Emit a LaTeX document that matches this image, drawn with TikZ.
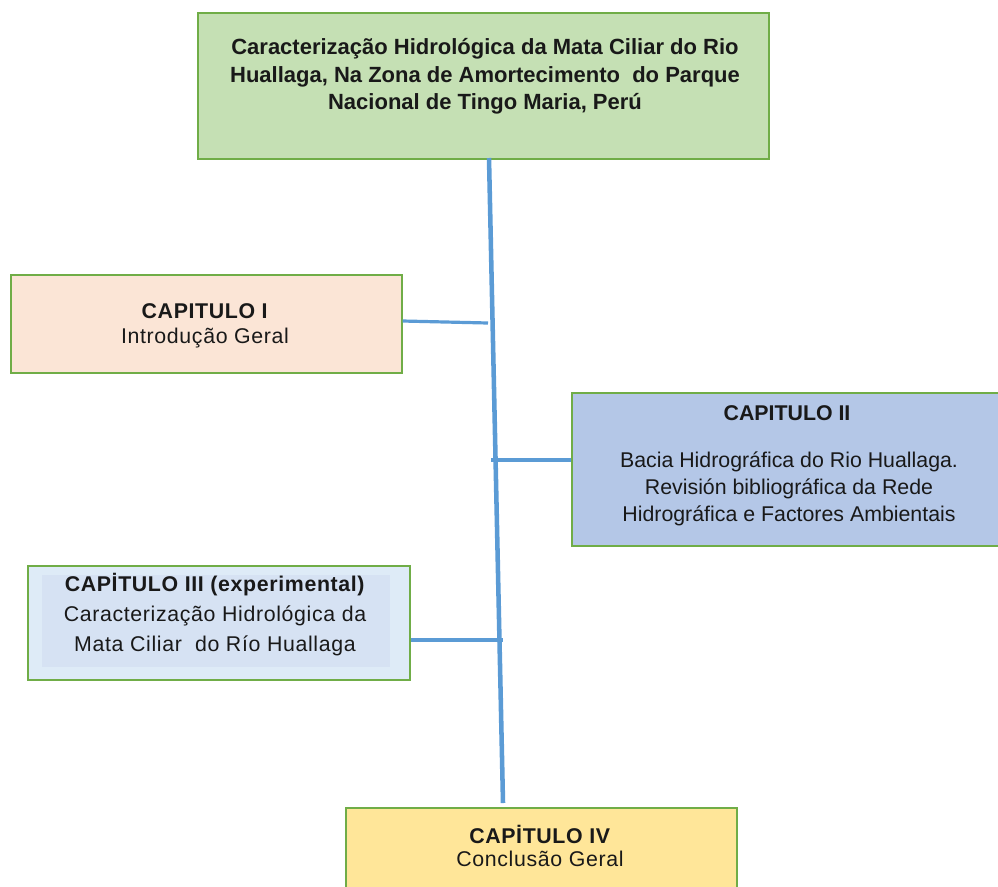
\documentclass[tikz,border=0pt]{standalone}
\usepackage{fontspec}
\setmainfont{Liberation Sans}
\definecolor{bordergreen}{HTML}{70AD47}
\definecolor{titlefill}{HTML}{C5E0B4}
\definecolor{onefill}{HTML}{FBE5D6}
\definecolor{twofill}{HTML}{B4C7E7}
\definecolor{threefill}{HTML}{DEEBF7}
\definecolor{threeinner}{HTML}{D6E2F3}
\definecolor{fourfill}{HTML}{FFE699}
\definecolor{linkblue}{HTML}{5B9BD5}
\tikzset{
  box/.style={draw=bordergreen, line width=1.2pt, inner sep=0pt, anchor=north west},
  txt/.style={align=center, inner sep=0pt, text=black!90},
  link/.style={draw=linkblue, line width=2.4pt},
  spine/.style={draw=linkblue, line width=3.4pt}
}
\newcommand{\spaced}{\addfontfeature{LetterSpace=3}}
\begin{document}
\begin{tikzpicture}[x=0.75pt, y=-0.75pt]
\useasboundingbox (0,0) rectangle (998,886);
% boxes
\node[box, fill=titlefill, minimum width=571*0.75pt, minimum height=146*0.75pt] (title) at (197,12) {};
\node[box, fill=onefill, minimum width=391*0.75pt, minimum height=98*0.75pt] (c1) at (10,274) {};
\node[box, fill=twofill, minimum width=430*0.75pt, minimum height=153*0.75pt] (c2) at (571,392) {};
\node[box, fill=threefill, minimum width=382*0.75pt, minimum height=114*0.75pt] (c3) at (27,565) {};
\fill[threeinner] (42,575) rectangle (390,667);
\node[box, fill=fourfill, minimum width=391*0.75pt, minimum height=85*0.75pt] (c4) at (345,807) {};
% texts
\node[txt, font=\fontsize{16.5}{20.6}\selectfont\bfseries] (ttitle) at (485,76.5) {Caracterização Hidrológica da Mata Ciliar do Rio\\Huallaga, Na Zona de Amortecimento\ \ do Parque\\Nacional de Tingo Maria, Perú};
\node[txt, font=\fontsize{16}{18.8}\selectfont\spaced] (t1) at (205,325.5) {\textbf{CAPITULO I}\\Introdução Geral};
\node[txt, font=\fontsize{16}{20}\selectfont\bfseries] (t2a) at (787,413.5) {CAPITULO II};
\node[txt, font=\fontsize{16}{20}\selectfont] (t2b) at (789,489) {Bacia Hidrográfica do Rio Huallaga.\\Revisión bibliográfica da Rede\\Hidrográfica e Factores Ambientais};
\node[txt, font=\fontsize{16}{22.5}\selectfont\spaced] (t3) at (215,614.5) {\textbf{CAPİTULO III (experimental)}\\Caracterização Hidrológica da\\Mata Ciliar\ \ do Río Huallaga};
\node[txt, font=\fontsize{16}{17.3}\selectfont\spaced] (t4) at (540,845.5) {\textbf{CAPİTULO IV}\\Conclusão Geral};
% spine
\coordinate (sTop) at (489,158);
\coordinate (sBot) at (503,803);
\coordinate (j1) at (488,323);
\coordinate (j2) at (491,460);
\coordinate (j3) at (503,640);
\draw[spine] (sTop) -- (sBot);
\draw[link] (c1.east |- 0,321) -- (j1);
\draw[link] (c2.west |- 0,460) -- (j2);
\draw[link] (c3.east |- 0,640) -- (j3);
\end{tikzpicture}
\end{document}
